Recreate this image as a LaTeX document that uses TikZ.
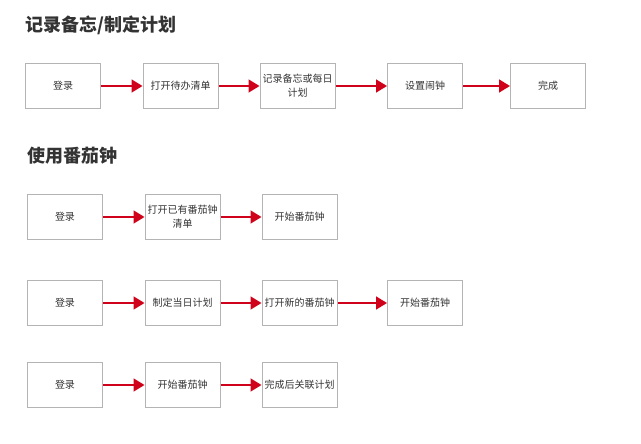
\documentclass[tikz,border=0pt]{standalone}
\usepackage{fontspec}
\setmainfont{Noto Sans CJK SC}
\usetikzlibrary{arrows.meta}
\definecolor{boxgray}{HTML}{B4B4B4}
\definecolor{txt}{HTML}{333333}
\definecolor{arrred}{HTML}{D0021B}
\tikzset{
  stepbox/.style={draw=boxgray, line width=1pt, minimum width=75pt, minimum height=45pt, inner sep=0pt, align=center, font=\fontsize{10pt}{14pt}\selectfont, text=txt},
  ttl/.style={anchor=west, inner sep=0pt, font=\fontsize{18pt}{21pt}\selectfont\bfseries, text=txt},
  flow/.style={draw=arrred, line width=1.6pt, -{Triangle[length=11pt,width=13pt]}, shorten >=0pt}
}
\begin{document}
\begin{tikzpicture}[x=1pt,y=-1pt]
\useasboundingbox (0,0) rectangle (641,444);
% Section 1
\node[ttl] (t1) at (25,25.5) {记录备忘/制定计划};
\node[stepbox] (a1) at (63,86) {登录};
\node[stepbox] (a2) at (180.5,86) {打开待办清单};
\node[stepbox] (a3) at (297.5,86) {记录备忘或每日\\计划};
\node[stepbox] (a4) at (425,86) {设置闹钟};
\node[stepbox] (a5) at (548,86) {完成};
\draw[flow] (a1) -- (a2);
\draw[flow] (a2) -- (a3);
\draw[flow] (a3) -- (a4);
\draw[flow] (a4) -- (a5);
% Section 2
\node[ttl] (t2) at (27,155.5) {使用番茄钟};
\node[stepbox] (b1) at (65,217) {登录};
\node[stepbox] (b2) at (182.5,217) {打开已有番茄钟\\清单};
\node[stepbox] (b3) at (299.5,217) {开始番茄钟};
\draw[flow] (b1) -- (b2);
\draw[flow] (b2) -- (b3);
\node[stepbox] (c1) at (65,303) {登录};
\node[stepbox] (c2) at (182.5,303) {制定当日计划};
\node[stepbox] (c3) at (299.5,303) {打开新的番茄钟};
\node[stepbox] (c4) at (425,303) {开始番茄钟};
\draw[flow] (c1) -- (c2);
\draw[flow] (c2) -- (c3);
\draw[flow] (c3) -- (c4);
\node[stepbox] (d1) at (65,385) {登录};
\node[stepbox] (d2) at (182.5,385) {开始番茄钟};
\node[stepbox] (d3) at (299.5,385) {完成后关联计划};
\draw[flow] (d1) -- (d2);
\draw[flow] (d2) -- (d3);
\end{tikzpicture}
\end{document}
